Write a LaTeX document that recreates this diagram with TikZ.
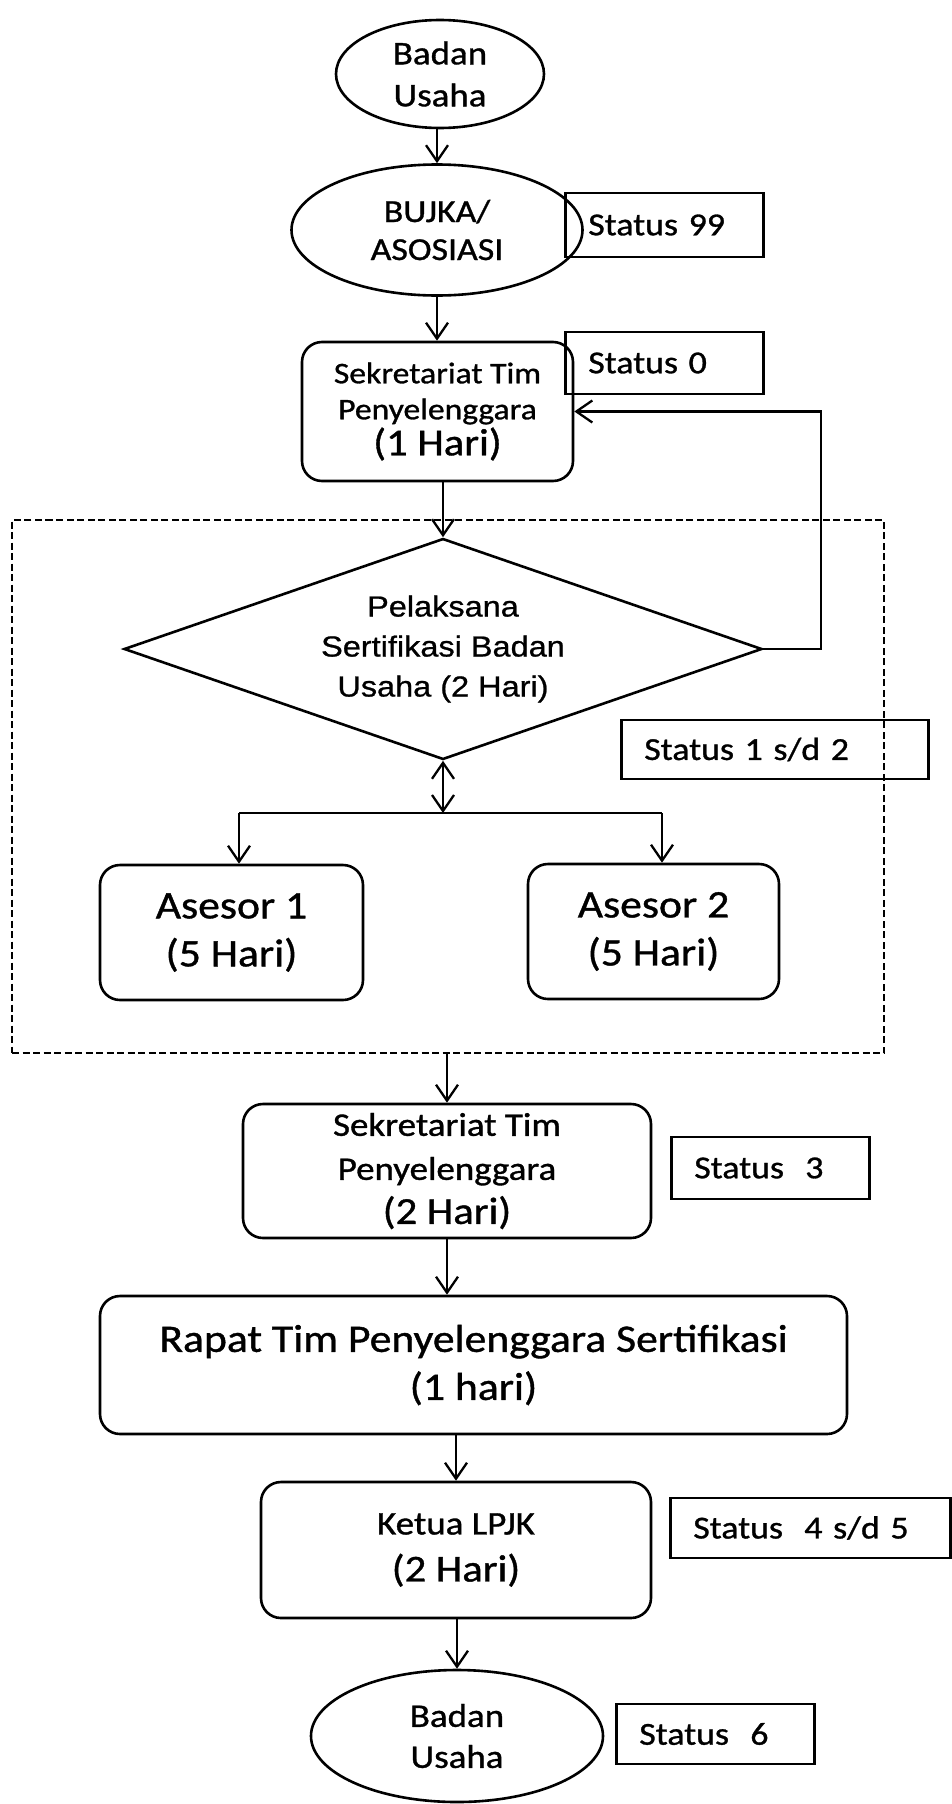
\documentclass[tikz,border=0pt]{standalone}
\usepackage{fontspec}
\setmainfont{Carlito}[FakeStretch=1.12,FakeBold=1.0]
\newfontfamily\arialf{Liberation Sans}[FakeStretch=1.12,FakeBold=0.8]
\usetikzlibrary{shapes.geometric,arrows.meta}
\begin{document}
\begin{tikzpicture}[x=1pt,y=-1pt,
  base/.style={draw, line width=2.6pt, inner sep=0pt, align=center},
  oval/.style={base, ellipse},
  rbox/.style={base, rounded corners=20pt},
  dia/.style={base, diamond, aspect=2.9},
  sbox/.style={draw, line width=2.6pt, inner ysep=0pt, inner xsep=23pt, align=left, anchor=west, font=\fontsize{32}{38}\selectfont},
  arr/.style={line width=2.3pt, -{Straight Barb[length=16pt,width=22pt]}},
  darr/.style={line width=2.3pt, {Straight Barb[length=16pt,width=22pt]}-{Straight Barb[length=16pt,width=22pt]}},
  link/.style={line width=2.3pt},
  grpbox/.style={draw, line width=2pt, dash pattern=on 7pt off 3.5pt, inner sep=0pt}
]
\useasboundingbox (0,0) rectangle (951,1804);

% main nodes
\node[oval, minimum width=208pt, minimum height=108pt, font=\fontsize{33}{42}\selectfont] (bu1) at (440,74) {Badan\\Usaha};
\node[oval, minimum width=291pt, minimum height=131pt, font=\fontsize{32}{38}\selectfont] (bujka) at (437,230) {BUJKA/\\ASOSIASI};
\node[rbox, minimum width=271pt, minimum height=139pt, font=\fontsize{30}{36}\selectfont] (sek1) at (437.5,411.5) {Sekretariat Tim\\Penyelenggara\\{\fontsize{38}{40}\selectfont (1 Hari)}};

\node[grpbox, minimum width=872pt, minimum height=533pt] (grp) at (448,786.5) {};
\node[dia, minimum width=638pt, minimum height=221pt, font=\arialf\fontsize{29}{40}\selectfont] (dia) at (443,649) {Pelaksana\\Sertifikasi Badan\\Usaha (2 Hari)};
\node[rbox, minimum width=263pt, minimum height=135pt, font=\fontsize{39}{48}\selectfont] (as1) at (231.5,932.5) {Asesor 1\\(5 Hari)};
\node[rbox, minimum width=251pt, minimum height=135pt, font=\fontsize{39}{48}\selectfont] (as2) at (653.5,931.5) {Asesor 2\\(5 Hari)};

\node[rbox, minimum width=408pt, minimum height=134pt, font=\fontsize{33}{44}\selectfont] (sek2) at (447,1171) {Sekretariat Tim\\Penyelenggara\\{\fontsize{38}{44}\selectfont (2 Hari)}};
\node[rbox, minimum width=747pt, minimum height=138pt, font=\fontsize{39}{48}\selectfont] (rapat) at (473.5,1365) {Rapat Tim Penyelenggara Sertifikasi\\(1 hari)};
\node[rbox, minimum width=390pt, minimum height=136pt, font=\fontsize{33}{47}\selectfont] (ketua) at (456,1550) {Ketua LPJK\\{\fontsize{38}{47}\selectfont (2 Hari)}};
\node[oval, minimum width=292pt, minimum height=132pt, font=\fontsize{33}{41}\selectfont] (bu2) at (457,1736) {Badan\\Usaha};

% status boxes
\node[sbox, minimum height=64pt, text width=152pt] (s99) at (564,225) {Status 99};
\node[sbox, minimum height=62pt, text width=152pt] (s0) at (564,363) {Status 0};
\node[sbox, minimum height=59pt, text width=261pt] (s12) at (620,749.5) {Status 1 s/d 2};
\node[sbox, minimum height=62pt, text width=152pt] (s3) at (670,1168) {Status~~3};
\node[sbox, minimum height=60pt, text width=234pt] (s45) at (669,1528) {Status~~4 s/d 5};
\node[sbox, minimum height=60pt, text width=152pt] (s6) at (615,1734) {Status~~6};

% connectors
\coordinate (fb) at (821,411.5);
\coordinate (jn) at (443,813);
\coordinate (jL) at (239,813);
\coordinate (jR) at (662,813);

\draw[arr] (bujka.north |- bu1.south) -- (bujka.north);
\draw[arr] (bujka.south) -- (bujka.south |- sek1.north);
\draw[arr] (dia.north |- sek1.south) -- (dia.north);
\draw[arr] (dia.east) -| (fb) -- (sek1.east);
\draw[darr] (dia.south) -- (jn);
\draw[link] (jL) -- (jR);
\draw[arr] (jL) -- (jL |- as1.north);
\draw[arr] (jR) -- (jR |- as2.north);
\draw[arr] (sek2.north |- grp.south) -- (sek2.north);
\draw[arr] (sek2.south) -- (sek2.south |- rapat.north);
\draw[arr] (ketua.north |- rapat.south) -- (ketua.north);
\draw[arr] (bu2.north |- ketua.south) -- (bu2.north);
\end{tikzpicture}
\end{document}
